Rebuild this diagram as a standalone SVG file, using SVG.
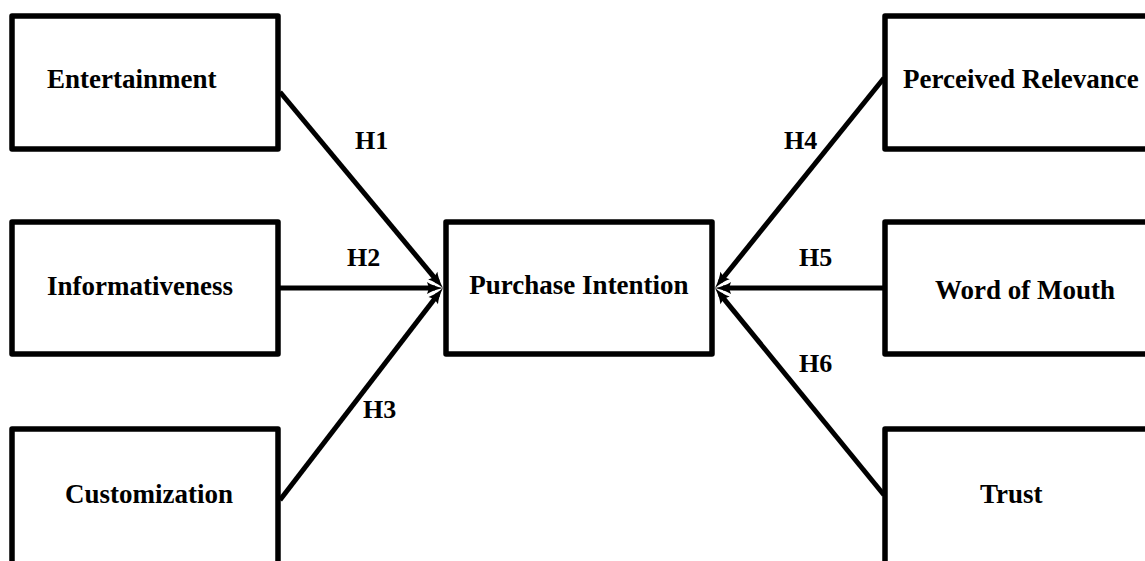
<svg xmlns="http://www.w3.org/2000/svg" width="1145" height="561" viewBox="0 0 1145 561">
  <style>
    .box { fill: #ffffff; stroke: #000000; stroke-width: 5.5; stroke-linejoin: round; }
    .lbl { font-family: "Liberation Serif", "Times New Roman", serif; font-weight: bold; font-size: 27px; fill: #000000; }
    .hyp { font-family: "Liberation Serif", "Times New Roman", serif; font-weight: bold; font-size: 26px; fill: #000000; }
    .edge { stroke: #000000; stroke-width: 5; fill: none; marker-end: url(#arrow); }
  </style>
  <defs>
    <marker id="arrow" markerUnits="userSpaceOnUse" viewBox="-12 -9 22 18" markerWidth="22" markerHeight="18" refX="0" refY="0" orient="auto" overflow="visible">
      <path d="M8,0 Q-2,-2 -8,-6 L-6,0 L-8,6 Q-2,2 8,0 Z" fill="#000000"/>
    </marker>
  </defs>

  <rect width="1145" height="561" fill="#ffffff"/>

  <!-- connectors -->
  <g id="connectors">
    <line class="edge" x1="280" y1="92" x2="437.9" y2="281.8"/>
    <line class="edge" x1="280" y1="288" x2="435" y2="288"/>
    <line class="edge" x1="280" y1="500" x2="438.1" y2="294.3"/>
    <line class="edge" x1="884" y1="78" x2="720" y2="281.75"/>
    <line class="edge" x1="884" y1="288" x2="723" y2="288"/>
    <line class="edge" x1="884" y1="495" x2="720" y2="294.2"/>
    <text class="hyp" x="355" y="149">H1</text>
    <text class="hyp" x="347" y="266">H2</text>
    <text class="hyp" x="363" y="418">H3</text>
    <text class="hyp" x="784" y="149">H4</text>
    <text class="hyp" x="799" y="266">H5</text>
    <text class="hyp" x="799" y="372">H6</text>
  </g>

  <!-- antecedents -->
  <g id="entertainment">
    <rect class="box" x="12" y="16" width="266" height="133"/>
    <text class="lbl" x="47" y="88">Entertainment</text>
  </g>
  <g id="informativeness">
    <rect class="box" x="12" y="222" width="266" height="132"/>
    <text class="lbl" x="47" y="295">Informativeness</text>
  </g>
  <g id="customization">
    <rect class="box" x="12" y="429" width="266" height="140"/>
    <text class="lbl" x="65" y="503">Customization</text>
  </g>

  <!-- outcome -->
  <g id="purchase-intention">
    <rect class="box" x="446" y="222" width="266" height="132"/>
    <text class="lbl" x="579" y="294" text-anchor="middle">Purchase Intention</text>
  </g>

  <g id="perceived-relevance">
    <rect class="box" x="885" y="16" width="266" height="133"/>
    <text class="lbl" x="903" y="88">Perceived Relevance</text>
  </g>
  <g id="word-of-mouth">
    <rect class="box" x="885" y="222" width="266" height="132"/>
    <text class="lbl" x="935" y="299">Word of Mouth</text>
  </g>
  <g id="trust">
    <rect class="box" x="885" y="429" width="266" height="140"/>
    <text class="lbl" x="980" y="503">Trust</text>
  </g>
</svg>
